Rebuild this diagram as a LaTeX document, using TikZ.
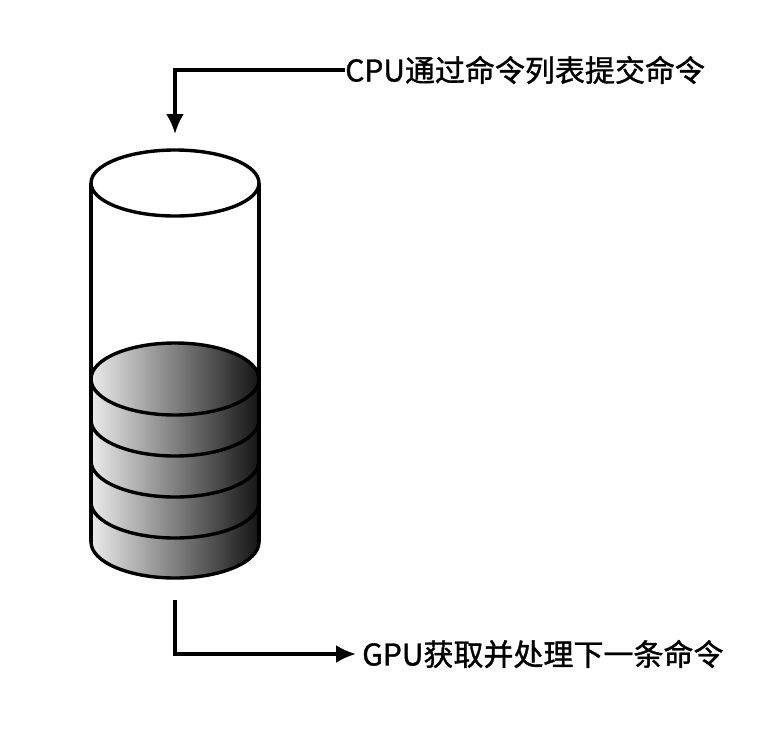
\documentclass[tikz,border=0pt]{standalone}
\usepackage{fontspec}
\newfontfamily\cjk{Noto Sans CJK SC}[FakeBold=1.2]
\usetikzlibrary{arrows.meta}
\begin{document}
\begin{tikzpicture}[x=1pt,y=-1pt,
  outl/.style={line width=3.4pt,black},
  arr/.style={line width=3.4pt,-{Latex[length=20pt,width=18pt]}},
  lbl/.style={font=\cjk\fontsize{30}{33}\selectfont,anchor=west,inner sep=0pt}]
\useasboundingbox (0,0) rectangle (784,732);
% stack fill
\shade[left color=black!8,right color=black!92]
  (91,379) -- (91,542) arc[start angle=180,end angle=0,x radius=84,y radius=36]
  -- (259,379) arc[start angle=0,end angle=-180,x radius=84,y radius=36] -- cycle;
\foreach \y in {420,461,502,542}
  \draw[outl] (91,\y) arc[start angle=180,end angle=0,x radius=84,y radius=36];
\draw[outl] (175,379) ellipse[x radius=84,y radius=36];
% cylinder
\draw[outl] (175,183) ellipse[x radius=84,y radius=33];
\draw[outl] (91,183) -- (91,542);
\draw[outl] (259,183) -- (259,542);
% labels
\node[lbl] (cpu) at (345,70) {CPU通过命令列表提交命令};
\node[lbl] (gpu) at (362,654) {GPU获取并处理下一条命令};
\coordinate (top) at (175,134);
\coordinate (bot) at (175,600);
\draw[arr] (cpu.west) -- ++(-4,0) -| (top);
\draw[arr] (bot) |- ([xshift=-6pt]gpu.west);
\end{tikzpicture}
\end{document}
